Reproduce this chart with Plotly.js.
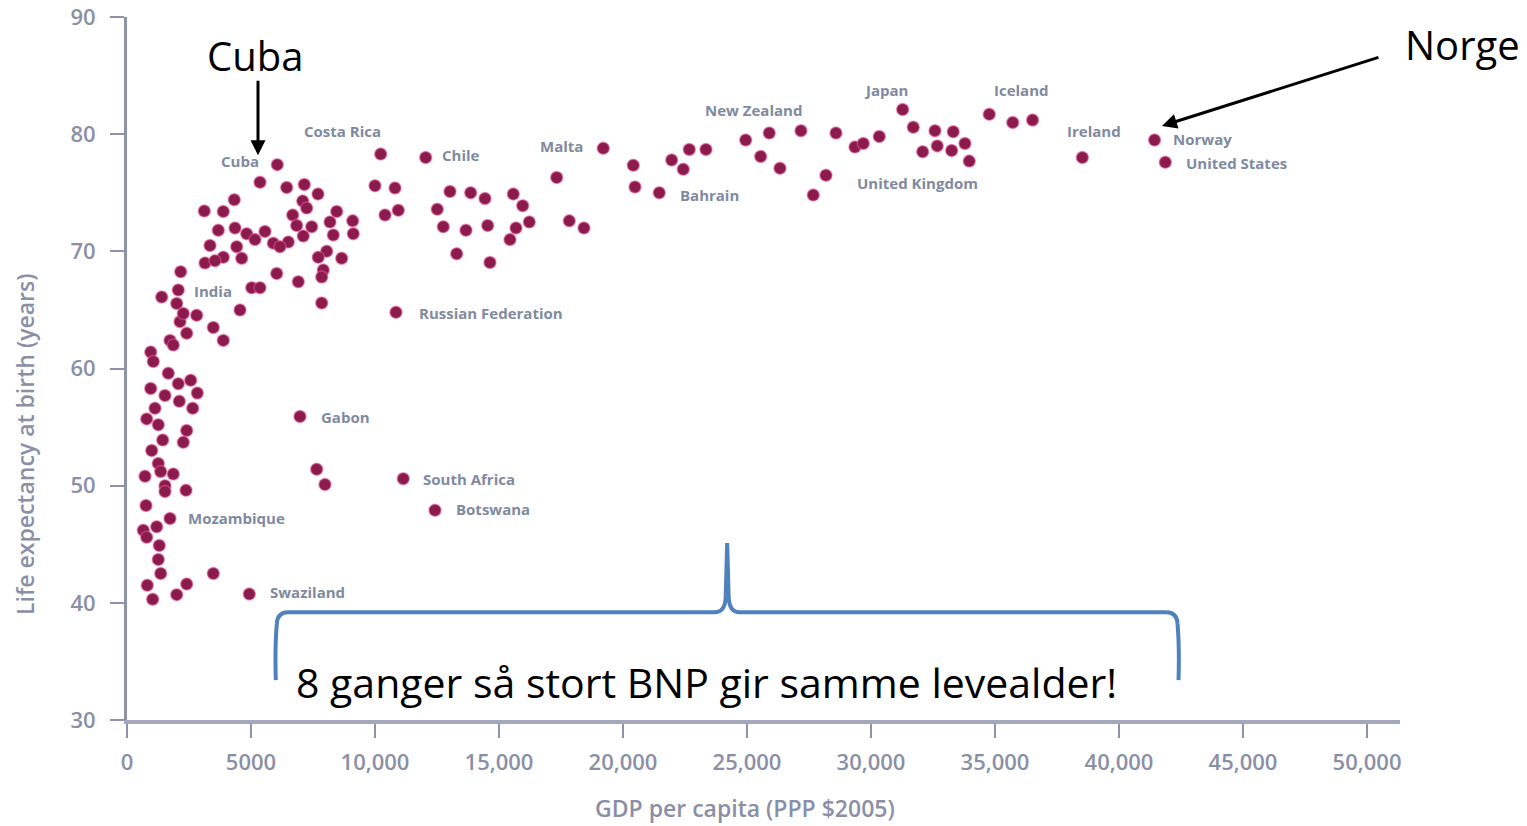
<!DOCTYPE html>
<html>
<head>
<meta charset="utf-8">
<script src="https://cdn.plot.ly/plotly-3.0.1.min.js"></script>
<style>html,body{margin:0;padding:0;background:#fff;}#chart{width:1527px;height:826px;}</style>
</head>
<body>
<div id="chart"></div>
<script>
// GDP per capita (PPP $2005) and life expectancy at birth (years)
const gdp = [
  3480, 3883, 2137, 2407, 1734, 1867, 956, 1060, 1665, 2068, 2568, 2835, 956, 1532, 2109, 2649, 1129, 794, 1262, 2407,
  2270, 1439, 996, 1262, 1359, 1867, 726, 1532, 1532, 2379, 766, 1734, 657, 794, 1197, 1302, 1262, 1359, 3480, 818,
  2407, 2004, 1036, 4931, 6975, 7649, 7983, 11140, 12419, 10846,
  6060, 5363, 6439, 7149, 7701, 7084, 7245, 4326, 3117, 3883, 8455, 9100, 6681, 6842, 7447, 8185, 9124, 8318, 7108, 3681,
  4355, 4826, 5564, 5161, 5899, 6504, 6169, 3347, 4423, 4625, 3145, 3883, 3548, 8052, 7713, 8657, 7915, 7850, 6036, 6907,
  5028, 5363, 2165, 7850, 4556, 1399, 2068, 2004, 2270, 2810,
  10229, 12044, 9999, 10806, 10403, 10939, 13023, 13858, 14435, 12511, 12753, 13668, 14543, 13293, 14636, 15576, 15955, 16221, 15684, 15443,
  17326, 19204, 17834, 18426,
  20414, 20483, 21462, 21962, 22430, 22672, 23345, 24946, 25898, 25551, 26329, 27176, 28184, 27672, 28587, 29353, 29688, 30333, 31276, 31704,
  32579, 33316, 32083, 32671, 33252, 33788, 33962, 34768, 35715, 36514, 38522, 41433, 41868
];
const lifeExp = [
  63.5, 62.4, 64.0, 63.0, 62.4, 62.0, 61.4, 60.6, 59.6, 58.7, 59.0, 57.9, 58.3, 57.7, 57.2, 56.6, 56.6, 55.7, 55.2, 54.7,
  53.7, 53.9, 53.0, 51.9, 51.2, 51.0, 50.8, 50.0, 49.5, 49.6, 48.3, 47.2, 46.2, 45.6, 46.5, 44.9, 43.7, 42.5, 42.5, 41.5,
  41.6, 40.7, 40.3, 40.75, 55.9, 51.4, 50.1, 50.6, 47.9, 64.8,
  77.4, 75.9, 75.45, 75.7, 74.9, 74.3, 73.7, 74.4, 73.45, 73.4, 73.4, 72.6, 73.1, 72.2, 72.1, 72.5, 71.5, 71.4, 71.3, 71.8,
  72.0, 71.5, 71.7, 71.0, 70.7, 70.8, 70.4, 70.5, 70.4, 69.4, 69.0, 69.5, 69.2, 70.0, 69.5, 69.4, 68.4, 67.8, 68.1, 67.4,
  66.9, 66.9, 68.25, 65.6, 65.0, 66.1, 66.7, 65.55, 64.7, 64.55,
  78.3, 78.0, 75.6, 75.4, 73.1, 73.5, 75.1, 75.0, 74.5, 73.6, 72.1, 71.8, 72.2, 69.8, 69.05, 74.9, 73.9, 72.5, 72.0, 71.0,
  76.3, 78.8, 72.6, 72.0,
  77.35, 75.5, 75.0, 77.8, 77.0, 78.7, 78.7, 79.5, 80.1, 78.1, 77.1, 80.3, 76.5, 74.8, 80.1, 78.9, 79.2, 79.8, 82.1, 80.6,
  80.3, 80.2, 78.5, 79.0, 78.6, 79.2, 77.7, 81.7, 81.0, 81.2, 78.0, 79.5, 77.6
];

// Country labels printed in the chart (text, GDP, life expectancy where the label sits)
const labelText = ["Cuba", "Costa Rica", "Chile", "Malta", "New Zealand", "Japan", "Iceland", "Ireland", "Norway",
  "United States", "United Kingdom", "Bahrain", "India", "Russian Federation", "Gabon", "South Africa", "Botswana",
  "Mozambique", "Swaziland"];
const labelGdp = [4556, 8709, 13467, 17539, 25281, 30603, 36086, 38989, 43384, 44755, 31893, 23507, 3468, 14676, 8830,
  13789, 14757, 4435, 7258];
const labelLife = [77.7, 80.25, 78.2, 79.0, 82.1, 83.8, 83.8, 80.25, 79.6, 77.5, 75.8, 74.8, 66.6, 64.7, 55.9, 50.6,
  48.0, 47.2, 40.9];

const xTickVals = [0, 5000, 10000, 15000, 20000, 25000, 30000, 35000, 40000, 45000, 50000];
const xTickText = ["0", "5000", "10,000", "15,000", "20,000", "25,000", "30,000", "35,000", "40,000", "45,000", "50,000"];
const yTickVals = [30, 40, 50, 60, 70, 80, 90];
const xTitle = 'GDP per capita (PPP $2005)';
const yTitle = 'Life expectancy at birth (years)';

// Bracket spanning the GDP range with equal life expectancy
const bracketFrom = 6000, bracketTo = 42400, bracketMid = 24200;
const bracketFoot = 33.4, bracketLine = 39.2, bracketPeak = 45.1;

function bracketPath() {
  const r = 500, rv = 1.0;
  const p = [];
  p.push(`M ${bracketFrom},${bracketFoot}`);
  p.push(`Q ${bracketFrom - 40},${bracketLine - 3} ${bracketFrom + 40},${bracketLine - rv}`);
  p.push(`Q ${bracketFrom + 60},${bracketLine} ${bracketFrom + r},${bracketLine}`);
  p.push(`L ${bracketMid - r},${bracketLine}`);
  p.push(`Q ${bracketMid - 80},${bracketLine} ${bracketMid - 60},${bracketLine + 1.3}`);
  p.push(`L ${bracketMid},${bracketPeak}`);
  p.push(`L ${bracketMid + 60},${bracketLine + 1.3}`);
  p.push(`Q ${bracketMid + 80},${bracketLine} ${bracketMid + r},${bracketLine}`);
  p.push(`L ${bracketTo - r},${bracketLine}`);
  p.push(`Q ${bracketTo - 60},${bracketLine} ${bracketTo - 40},${bracketLine - rv}`);
  p.push(`Q ${bracketTo + 40},${bracketLine - 3} ${bracketTo},${bracketFoot}`);
  return p.join(' ');
}

const axisColor = '#8e93aa';
const tickFont = {family: 'Open Sans, sans-serif', size: 22, color: '#8a8fa6', weight: 600};
const titleFont = {family: 'Open Sans, sans-serif', size: 23, color: '#8a8fa6', weight: 600};
const labelFont = {family: 'Open Sans, sans-serif', size: 15, color: '#7f8aa0', weight: 700};

const trace = {
  type: 'scatter', mode: 'markers', x: gdp, y: lifeExp,
  marker: {size: 12, color: '#8a1b4c', line: {color: 'rgba(225,90,150,0.55)', width: 1.5}},
  cliponaxis: false, hoverinfo: 'x+y'
};

const annotations = labelText.map((t, i) => ({
  x: labelGdp[i], y: labelLife[i], xref: 'x', yref: 'y', text: t, showarrow: false, font: labelFont,
  xanchor: 'center', yanchor: 'middle'
}));

const bigFont = {family: 'Open Sans, sans-serif', size: 40, color: '#000'};
function paperAnn(px, py, text, font, angle) {
  return {xref: 'paper', yref: 'paper', x: (px - 127) / 1273, y: (720 - py) / 703, text: text,
    showarrow: false, font: font, xanchor: 'center', yanchor: 'middle', textangle: angle || 0};
}
annotations.push(paperAnn(745, 808, xTitle, titleFont));
annotations.push(paperAnn(25, 444, yTitle, titleFont, -90));
annotations.push(paperAnn(255, 55, 'Cuba', bigFont));
annotations.push(paperAnn(1462, 44, 'Norge', bigFont));
annotations.push(paperAnn(706, 682, '8 ganger så stort BNP gir samme levealder!',
  {family: 'Open Sans, sans-serif', size: 41, color: '#000'}));
annotations.push({xref: 'x', yref: 'y', x: 5282, y: 78.2, text: '', showarrow: true, ax: 0, ay: -76,
  arrowcolor: '#000', arrowwidth: 3, arrowhead: 2, arrowsize: 1});
annotations.push({xref: 'x', yref: 'y', x: 41731, y: 80.7, text: '', showarrow: true, ax: 218, ay: -69,
  arrowcolor: '#000', arrowwidth: 3, arrowhead: 2, arrowsize: 1});

const layout = {
  width: 1527, height: 826,
  margin: {l: 127, r: 127, t: 17, b: 106},
  paper_bgcolor: '#fff', plot_bgcolor: '#fff',
  showlegend: false,
  xaxis: {
    range: [0, 51330], showgrid: false, zeroline: false, showline: true, linecolor: '#a3a8bd', linewidth: 4,
    ticks: 'outside', ticklen: 14, tickwidth: 2, tickcolor: axisColor, ticklabelstandoff: 6,
    tickvals: xTickVals, ticktext: xTickText, tickfont: tickFont,
    automargin: false
  },
  yaxis: {
    range: [30, 90], showgrid: false, zeroline: false, showline: true, linecolor: axisColor, linewidth: 3,
    ticks: 'outside', ticklen: 14, tickwidth: 2, tickcolor: axisColor, ticklabelstandoff: 10,
    tickvals: yTickVals, tickfont: tickFont,
    automargin: false
  },
  shapes: [{type: 'path', xref: 'x', yref: 'y', path: bracketPath(), line: {color: '#4f81bd', width: 4}}],
  annotations: annotations
};

Plotly.newPlot('chart', [trace], layout, {displayModeBar: false, staticPlot: true});
</script>
</body>
</html>
